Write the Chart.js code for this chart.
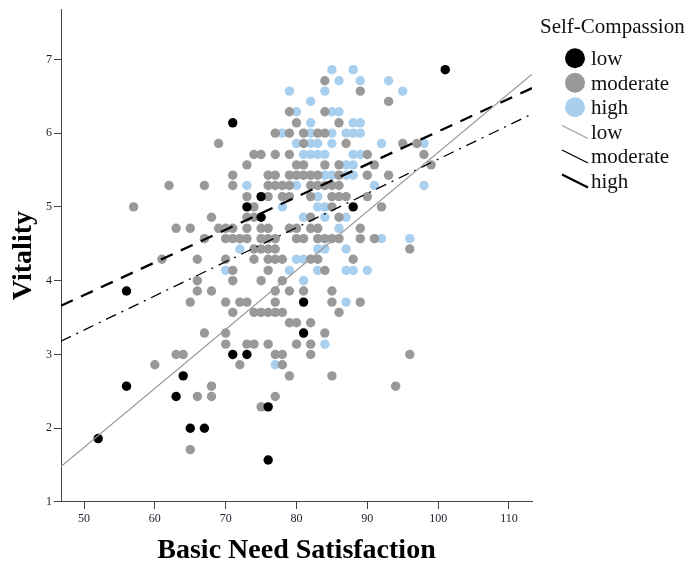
<!DOCTYPE html>
<html><head><meta charset="utf-8">
<script src="https://cdn.jsdelivr.net/npm/chart.js@4.4.0/dist/chart.umd.min.js"></script>
<style>
html,body{margin:0;padding:0;background:#fff;}
#wrap{position:relative;width:691px;height:562px;}
#c{position:absolute;left:0;top:0;}
#legend{position:absolute;left:0;top:0;pointer-events:none;}
</style></head><body>
<div id="wrap"><canvas id="c" width="691" height="562"></canvas>
<svg id="legend" width="691" height="562" xmlns="http://www.w3.org/2000/svg"></svg></div>
<script>
// ---- data ----
const xTicks = [50, 60, 70, 80, 90, 100, 110];
const yTicks = [1, 2, 3, 4, 5, 6, 7];
const xRange = [46.75, 113.25];
const yRange = [1, 7.68];
const groupLabels = ['low', 'moderate', 'high'];
const legendTitle = 'Self-Compassion';
const xTitle = 'Basic Need Satisfaction';
const yTitle = 'Vitality';

const lowPoints = [[52,1.86],[56,2.57],[56,3.86],[63,2.43],[64,2.71],[65,2.00],[67,2.00],[71,3.00],[73,3.00],[76,2.29],[76,1.57],[81,3.71],[81,3.29],[88,5.00],[101,6.86],[71,6.14],[73,5.00],[75,5.14],[75,4.86]];

const moderatePoints = [
[84,6.71],[89,6.57],[93,6.43],[79,6.29],[84,6.29],[80,6.14],[86,6.14],
[77,6],[79,6],[81,6],[83,6],[84,6],
[69,5.86],[81,5.86],[87,5.86],[95,5.86],[97,5.86],
[74,5.71],[75,5.71],[77,5.71],[79,5.71],[90,5.71],[98,5.71],
[73,5.57],[80,5.57],[81,5.57],[84,5.57],[86,5.57],[91,5.57],[99,5.57],
[71,5.43],[76,5.43],[77,5.43],[79,5.43],[80,5.43],[81,5.43],[82,5.43],[83,5.43],[86,5.43],[90,5.43],[93,5.43],
[62,5.29],[67,5.29],[71,5.29],[76,5.29],[77,5.29],[78,5.29],[79,5.29],[82,5.29],[83,5.29],[84,5.29],[85,5.29],[86,5.29],
[73,5.14],[76,5.14],[78,5.14],[79,5.14],[82,5.14],[85,5.14],[86,5.14],[87,5.14],[90,5.14],
[57,5],[74,5],[85,5],[92,5],
[68,4.86],[73,4.86],[74,4.86],[82,4.86],[86,4.86],
[63,4.71],[65,4.71],[69,4.71],[70,4.71],[71,4.71],[73,4.71],[75,4.71],[76,4.71],[79,4.71],[80,4.71],[82,4.71],[83,4.71],[89,4.71],
[67,4.57],[70,4.57],[71,4.57],[72,4.57],[73,4.57],[75,4.57],[76,4.57],[77,4.57],[80,4.57],[81,4.57],[83,4.57],[84,4.57],[85,4.57],[86,4.57],[89,4.57],[91,4.57],
[74,4.43],[75,4.43],[76,4.43],[77,4.43],[96,4.43],
[61,4.29],[66,4.29],[70,4.29],[74,4.29],[76,4.29],[77,4.29],[78,4.29],[82,4.29],[83,4.29],[88,4.29],
[71,4.14],[76,4.14],[84,4.14],
[66,4],[71,4],[75,4],[78,4],
[66,3.86],[68,3.86],[77,3.86],[79,3.86],[81,3.86],[85,3.86],
[65,3.71],[70,3.71],[72,3.71],[73,3.71],[77,3.71],[85,3.71],[89,3.71],
[71,3.57],[74,3.57],[75,3.57],[76,3.57],[77,3.57],[78,3.57],[86,3.57],
[79,3.43],[80,3.43],[82,3.43],
[67,3.29],[70,3.29],[84,3.29],
[70,3.14],[73,3.14],[74,3.14],[76,3.14],[80,3.14],[82,3.14],
[63,3],[64,3],[77,3],[78,3],[82,3],[96,3],
[60,2.86],[72,2.86],[78,2.86],
[79,2.71],[85,2.71],
[68,2.57],[94,2.57],
[66,2.43],[68,2.43],[77,2.43],
[75,2.29],
[65,1.71]
];

const highPoints = [
[85,6.86],[88,6.86],
[86,6.71],[89,6.71],[93,6.71],
[79,6.57],[84,6.57],[95,6.57],
[82,6.43],
[80,6.29],[85,6.29],[86,6.29],
[82,6.14],[88,6.14],[89,6.14],
[78,6],[82,6],[85,6],[87,6],[88,6],[89,6],
[80,5.86],[82,5.86],[83,5.86],[85,5.86],[92,5.86],[98,5.86],
[81,5.71],[82,5.71],[83,5.71],[84,5.71],[88,5.71],[89,5.71],
[87,5.57],[88,5.57],
[84,5.43],[85,5.43],[87,5.43],[88,5.43],
[73,5.29],[80,5.29],[91,5.29],[98,5.29],
[83,5.14],
[78,5],[83,5],[84,5],
[81,4.86],[84,4.86],[87,4.86],
[86,4.71],
[92,4.57],[96,4.57],
[72,4.43],[83,4.43],[84,4.43],[87,4.43],
[80,4.29],[81,4.29],
[70,4.14],[79,4.14],[83,4.14],[87,4.14],[88,4.14],[90,4.14],
[81,4],
[87,3.71],
[84,3.14],
[77,2.86]
];

// fitted lines (end points read at the axis limits)
const fitX = [46.75, 113.25];
const fitLowY = [1.48, 6.80];
const fitModerateY = [3.18, 6.26];
const fitHighY = [3.66, 6.61];

// ---- styles ----
const FONT = "'Liberation Serif', 'Times New Roman', serif";
const pointColors = {low: '#000000', moderate: '#999999', high: '#a9cfef'};
const lineStyles = {
  low: {color: '#9a9a9a', width: 1.2, dash: []},
  moderate: {color: '#000000', width: 1.3, dash: [11, 6, 2, 6]},
  high: {color: '#000000', width: 2.3, dash: [13, 9]}
};
const target = {left: 61, right: 532, top: 8, bottom: 502};

const toXY = arr => arr.map(p => ({x: p[0], y: p[1]}));
const fitData = ys => fitX.map((x, i) => ({x: x, y: ys[i]}));

const pointSets = {low: lowPoints, moderate: moderatePoints, high: highPoints};
const fitSets = {low: fitLowY, moderate: fitModerateY, high: fitHighY};
const pointOrder = {low: 1, high: 3, moderate: 2};

const datasets = [];
groupLabels.forEach(g => {
  const s = lineStyles[g];
  datasets.push({label: g + ' fit', data: fitData(fitSets[g]), showLine: true, fill: false,
    borderColor: s.color, borderWidth: s.width, borderDash: s.dash, pointRadius: 0, order: 0});
});
groupLabels.forEach(g => {
  datasets.push({label: g, data: toXY(pointSets[g]), showLine: false,
    backgroundColor: pointColors[g], borderWidth: 0, pointRadius: 4.7, order: pointOrder[g]});
});

const axisColor = '#444';
const chart = new Chart(document.getElementById('c'), {
  type: 'scatter',
  data: {datasets: datasets},
  options: {
    responsive: false, animation: false, events: [],
    layout: {padding: {left: 0, right: 159, top: 8, bottom: 0}},
    plugins: {legend: {display: false}, tooltip: {enabled: false}},
    scales: {
      x: {
        type: 'linear', min: xRange[0], max: xRange[1],
        afterBuildTicks: s => { s.ticks = xTicks.map(v => ({value: v})); },
        grid: {drawOnChartArea: false, drawTicks: true, tickLength: 7, color: axisColor},
        border: {display: true, color: axisColor, width: 1},
        ticks: {font: {family: FONT, size: 12}, color: '#1c1c2a', padding: 3, maxRotation: 0, autoSkip: false},
        title: {display: true, text: xTitle, color: '#000',
          font: {family: FONT, size: 28, weight: 'bold', lineHeight: 1}, padding: {top: 7, bottom: 0}}
      },
      y: {
        type: 'linear', min: yRange[0], max: yRange[1],
        afterBuildTicks: s => { s.ticks = yTicks.map(v => ({value: v})); },
        grid: {drawOnChartArea: false, drawTicks: true, tickLength: 7, color: axisColor},
        border: {display: true, color: axisColor, width: 1},
        ticks: {font: {family: FONT, size: 12}, color: '#1c1c2a', padding: 2, autoSkip: false},
        title: {display: true, text: yTitle, color: '#000',
          font: {family: FONT, size: 28, weight: 'bold', lineHeight: 1}, padding: {top: 11, bottom: 6}}
      }
    }
  }
});

// fit the plot area to the reference frame
for (let k = 0; k < 2; k++) {
  const a = chart.chartArea;
  const p = chart.options.layout.padding;
  p.left += target.left - a.left;
  p.right += a.right - target.right;
  p.top += target.top - a.top;
  p.bottom += a.bottom - target.bottom;
  chart.update();
}

// ---- legend (SVG text) ----
const svg = document.getElementById('legend');
const NS = 'http://www.w3.org/2000/svg';
function el(tag, attrs, text) {
  const e = document.createElementNS(NS, tag);
  for (const k in attrs) e.setAttribute(k, attrs[k]);
  if (text) e.textContent = text;
  svg.appendChild(e);
  return e;
}
const legX = 540, legTextX = 591, markX = 575;
const baseline0 = 65, rowStep = 24.5;
el('text', {x: legX, y: 33.3, 'font-family': FONT, 'font-size': 21, fill: '#111'}, legendTitle);
groupLabels.forEach((g, i) => {
  const b = baseline0 + rowStep * i;
  el('circle', {cx: markX, cy: b - 6.8, r: 10, fill: pointColors[g]});
  el('text', {x: legTextX, y: b, 'font-family': FONT, 'font-size': 21, fill: '#111'}, g);
});
groupLabels.forEach((g, i) => {
  const b = baseline0 + rowStep * (i + 3);
  const s = lineStyles[g];
  el('line', {x1: 562, y1: b - 13, x2: 588, y2: b, stroke: s.color, 'stroke-width': s.width});
  el('text', {x: legTextX, y: b, 'font-family': FONT, 'font-size': 21, fill: '#111'}, g);
});
</script>
</body></html>
